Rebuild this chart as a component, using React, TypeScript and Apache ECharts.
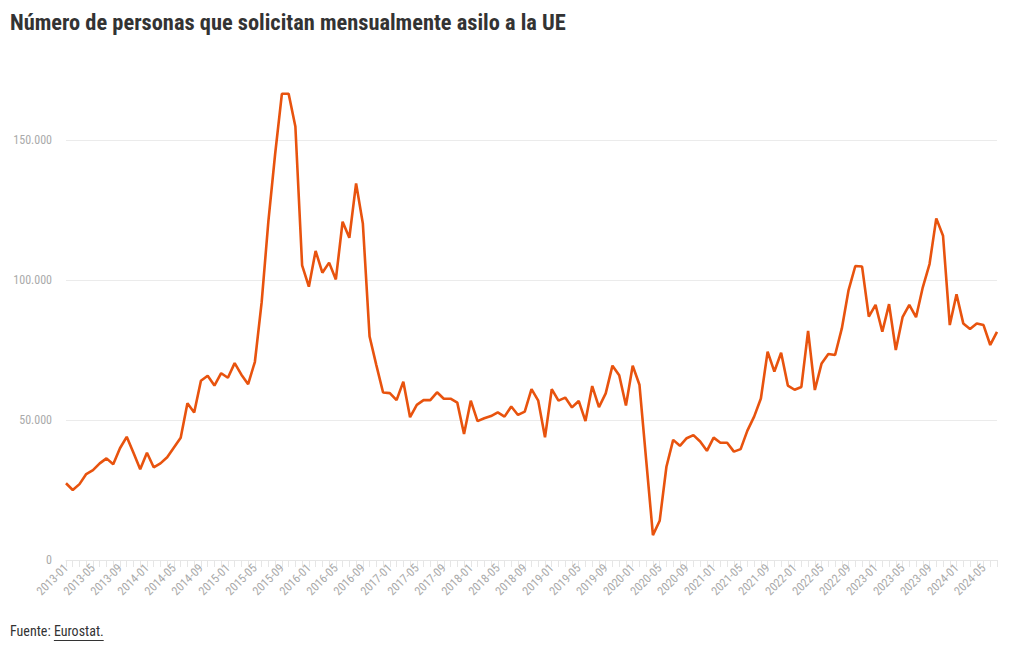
import React, { useEffect, useRef } from "react";
import * as echarts from "echarts";

const title = "Número de personas que solicitan mensualmente asilo a la UE";
const sourceLabel = "Fuente: ";
const sourceName = "Eurostat.";

const startYear = 2013;
const monthCount = 139; // 2013-01 .. 2024-07
const months: string[] = [];
for (let i = 0; i < monthCount; i++) {
  const y = startYear + Math.floor(i / 12);
  const m = (i % 12) + 1;
  months.push(`${y}-${m < 10 ? "0" + m : m}`);
}

const applicants: number[] = [
  27400, 25000, 27100, 30700, 32100, 34500, 36300, 34200, 39900, 44000, 38300, 32400,
  38300, 33100, 34500, 36700, 40200, 43700, 56000, 52700, 64000, 65800, 62300, 66700,
  65100, 70300, 66200, 62800, 70800, 92000, 121000, 145000, 166500, 166500, 154800, 105200,
  97600, 110400, 102600, 106200, 100200, 120800, 115100, 134500, 120200, 79800, 69600, 59800,
  59600, 57100, 63700, 51000, 55400, 57100, 57100, 59900, 57600, 57600, 56200, 45000,
  56900, 49600, 50600, 51400, 52700, 51200, 54800, 51800, 53000, 61000, 56900, 43800,
  61000, 56900, 58000, 54500, 56800, 49600, 62100, 54600, 59500, 69400, 66000, 55200,
  69400, 62600, 35700, 8900, 14000, 33300, 42900, 40800, 43500, 44600, 42300, 39000,
  43700, 41900, 41900, 38700, 39600, 46200, 51200, 57700, 74400, 67300, 74000, 62300,
  60800, 61800, 81800, 60700, 70200, 73600, 73200, 82700, 96400, 105000, 104800, 86900,
  91100, 81500, 91400, 75000, 86700, 91100, 86700, 97400, 105700, 122000, 115800, 83900,
  94900, 84500, 82500, 84500, 83900, 76800, 81500,
];

const FONT = "'Roboto Condensed', 'Liberation Sans Narrow', 'DejaVu Sans Condensed', Roboto, sans-serif";

function fmt(v: number): string {
  return String(Math.round(v)).replace(/\B(?=(\d{3})+(?!\d))/g, ".");
}

function measure(text: string, font: string): number {
  const c = document.createElement("canvas").getContext("2d");
  if (!c) return text.length * 7;
  c.font = font;
  return c.measureText(text).width;
}

export default function App() {
  const ref = useRef<HTMLDivElement>(null);
  useEffect(() => {
    if (!ref.current) return;
    const chart = echarts.init(ref.current, undefined, { renderer: "svg" });
    const w1 = measure(sourceLabel, `14px ${FONT}`);
    const w2 = measure(sourceName, `14px ${FONT}`);
    chart.setOption({
      animation: false,
      backgroundColor: "#ffffff",
      grid: { left: 66, right: 23, top: 84, bottom: 90, containLabel: false },
      graphic: [
        {
          type: "text",
          left: 10,
          top: 11,
          style: { text: title, fontFamily: FONT, fontSize: 22.4, fontWeight: "bold", fill: "#333333" },
        },
        {
          type: "text",
          left: 10,
          top: 624,
          style: { text: sourceLabel, fontFamily: FONT, fontSize: 14, fill: "#333333" },
        },
        {
          type: "text",
          left: 10 + w1,
          top: 624,
          style: { text: sourceName, fontFamily: FONT, fontSize: 14, fill: "#333333" },
        },
        {
          type: "line",
          shape: { x1: 10 + w1, y1: 640.5, x2: 10 + w1 + w2, y2: 640.5 },
          style: { stroke: "#333333", lineWidth: 1 },
        },
      ],
      xAxis: {
        type: "category",
        data: months,
        boundaryGap: false,
        axisLine: { show: true, lineStyle: { color: "#e6e6e6", width: 1 } },
        axisTick: { show: true, interval: 0, length: 7, lineStyle: { color: "#e6e6e6" } },
        axisLabel: {
          interval: 3,
          rotate: 45,
          margin: 6,
          color: "#aaaaaa",
          fontSize: 12,
          fontFamily: FONT,
        },
        splitLine: { show: false },
      },
      yAxis: {
        type: "value",
        min: 0,
        max: 170000,
        interval: 50000,
        axisLine: { show: false },
        axisTick: { show: false },
        axisLabel: {
          color: "#aaaaaa",
          fontSize: 12,
          fontFamily: FONT,
          margin: 14,
          showMaxLabel: false,
          formatter: (v: number) => fmt(v),
        },
        splitLine: { show: true, showMaxLine: false, lineStyle: { color: "#ebebeb", width: 1 } },
      },
      series: [
        {
          type: "line",
          data: applicants,
          symbol: "none",
          lineStyle: { color: "#e8530e", width: 2.6 },
          itemStyle: { color: "#e8530e" },
        },
      ],
    });
    return () => chart.dispose();
  }, []);
  return (
    <div
      ref={ref}
      style={{ position: "fixed", left: 0, top: 0, width: 1020, height: 650 }}
    />
  );
}
